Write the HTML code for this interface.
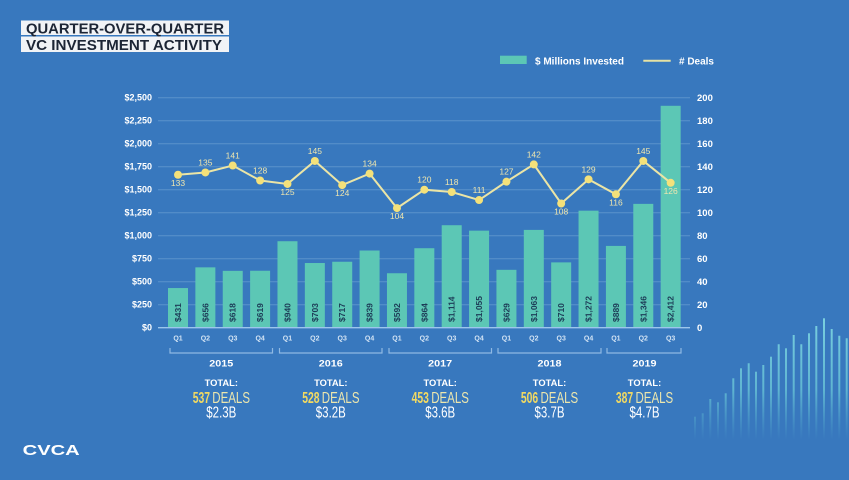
<!DOCTYPE html>
<html><head><meta charset="utf-8"><style>
html,body{margin:0;padding:0;background:#3878be;}
svg{display:block;font-family:"Liberation Sans",sans-serif;}
</style></head><body>
<svg width="849" height="480" viewBox="0 0 849 480" xmlns="http://www.w3.org/2000/svg">
<defs>
<linearGradient id="fade" gradientUnits="userSpaceOnUse" x1="0" y1="315" x2="0" y2="440">
<stop offset="0" stop-color="#7fd6e2" stop-opacity="0.95"/>
<stop offset="0.6" stop-color="#6cc9d8" stop-opacity="0.75"/>
<stop offset="1" stop-color="#5ab8cf" stop-opacity="0"/>
</linearGradient>
</defs>
<rect width="849" height="480" fill="#3878be"/>

<!-- Title -->
<rect x="21" y="20.5" width="208" height="14.5" fill="#f1f3f6"/>
<rect x="21" y="36.5" width="208" height="15.5" fill="#f1f3f6"/>
<text x="26" y="33.3" font-size="14.5" font-weight="bold" fill="#1c2535" textLength="198" lengthAdjust="spacingAndGlyphs">QUARTER-OVER-QUARTER</text>
<text x="26" y="50" font-size="14.5" font-weight="bold" fill="#1c2535" textLength="196" lengthAdjust="spacingAndGlyphs">VC INVESTMENT ACTIVITY</text>

<!-- Legend -->
<rect x="500" y="55.7" width="26.7" height="8.3" fill="#5cc7b5"/>
<text x="535" y="64.3" font-size="10" font-weight="bold" fill="#ffffff" textLength="89" lengthAdjust="spacingAndGlyphs">$ Millions Invested</text>
<line x1="643.3" y1="60.7" x2="670.7" y2="60.7" stroke="#e6e2a4" stroke-width="2"/>
<text x="679" y="64.3" font-size="10" font-weight="bold" fill="#ffffff" textLength="35" lengthAdjust="spacingAndGlyphs"># Deals</text>

<!-- Gridlines -->
<g stroke="#5b93cc" stroke-width="1">
<line x1="158" y1="304.7" x2="690" y2="304.7"/>
<line x1="158" y1="281.7" x2="690" y2="281.7"/>
<line x1="158" y1="258.7" x2="690" y2="258.7"/>
<line x1="158" y1="235.7" x2="690" y2="235.7"/>
<line x1="158" y1="212.7" x2="690" y2="212.7"/>
<line x1="158" y1="189.7" x2="690" y2="189.7"/>
<line x1="158" y1="166.7" x2="690" y2="166.7"/>
<line x1="158" y1="143.7" x2="690" y2="143.7"/>
<line x1="158" y1="120.7" x2="690" y2="120.7"/>
<line x1="158" y1="97.7" x2="690" y2="97.7"/>
</g>

<!-- Left axis labels -->
<g font-size="9" font-weight="bold" fill="#ffffff" text-anchor="end">
<text x="152" y="330.7">$0</text>
<text x="152" y="307.7">$250</text>
<text x="152" y="284.7">$500</text>
<text x="152" y="261.7">$750</text>
<text x="152" y="238.7">$1,000</text>
<text x="152" y="215.7">$1,250</text>
<text x="152" y="192.7">$1,500</text>
<text x="152" y="169.7">$1,750</text>
<text x="152" y="146.7">$2,000</text>
<text x="152" y="123.7">$2,250</text>
<text x="152" y="100.7">$2,500</text>
</g>

<!-- Right axis labels -->
<g font-size="9.5" font-weight="bold" fill="#ffffff">
<text x="697" y="331">0</text>
<text x="697" y="308">20</text>
<text x="697" y="285">40</text>
<text x="697" y="262">60</text>
<text x="697" y="239">80</text>
<text x="697" y="216">100</text>
<text x="697" y="193">120</text>
<text x="697" y="170">140</text>
<text x="697" y="147">160</text>
<text x="697" y="124">180</text>
<text x="697" y="101">200</text>
</g>

<!-- Bars -->
<g fill="#5cc7b5">
<rect x="168.00" y="288.05" width="20" height="39.65"/>
<rect x="195.37" y="267.35" width="20" height="60.35"/>
<rect x="222.74" y="270.84" width="20" height="56.86"/>
<rect x="250.11" y="270.75" width="20" height="56.95"/>
<rect x="277.48" y="241.22" width="20" height="86.48"/>
<rect x="304.85" y="263.02" width="20" height="64.68"/>
<rect x="332.22" y="261.74" width="20" height="65.96"/>
<rect x="359.59" y="250.51" width="20" height="77.19"/>
<rect x="386.96" y="273.24" width="20" height="54.46"/>
<rect x="414.33" y="248.21" width="20" height="79.49"/>
<rect x="441.70" y="225.21" width="20" height="102.49"/>
<rect x="469.07" y="230.64" width="20" height="97.06"/>
<rect x="496.44" y="269.83" width="20" height="57.87"/>
<rect x="523.81" y="229.90" width="20" height="97.80"/>
<rect x="551.18" y="262.38" width="20" height="65.32"/>
<rect x="578.55" y="210.68" width="20" height="117.02"/>
<rect x="605.92" y="245.91" width="20" height="81.79"/>
<rect x="633.29" y="203.87" width="20" height="123.83"/>
<rect x="660.66" y="105.80" width="20" height="221.90"/>
</g>

<!-- Baseline -->
<line x1="158" y1="327.7" x2="690" y2="327.7" stroke="#9cc6ec" stroke-width="1.3"/>

<!-- Bar value labels -->
<g font-size="8.5" font-weight="bold" fill="#1d3c57">
<text transform="translate(181.0,322) rotate(-90)">$431</text>
<text transform="translate(208.4,322) rotate(-90)">$656</text>
<text transform="translate(235.7,322) rotate(-90)">$618</text>
<text transform="translate(263.1,322) rotate(-90)">$619</text>
<text transform="translate(290.5,322) rotate(-90)">$940</text>
<text transform="translate(317.9,322) rotate(-90)">$703</text>
<text transform="translate(345.2,322) rotate(-90)">$717</text>
<text transform="translate(372.6,322) rotate(-90)">$839</text>
<text transform="translate(400.0,322) rotate(-90)">$592</text>
<text transform="translate(427.3,322) rotate(-90)">$864</text>
<text transform="translate(454.7,322) rotate(-90)">$1,114</text>
<text transform="translate(482.1,322) rotate(-90)">$1,055</text>
<text transform="translate(509.4,322) rotate(-90)">$629</text>
<text transform="translate(536.8,322) rotate(-90)">$1,063</text>
<text transform="translate(564.2,322) rotate(-90)">$710</text>
<text transform="translate(591.6,322) rotate(-90)">$1,272</text>
<text transform="translate(618.9,322) rotate(-90)">$889</text>
<text transform="translate(646.3,322) rotate(-90)">$1,346</text>
<text transform="translate(673.7,322) rotate(-90)">$2,412</text>
</g>

<!-- Deals line -->
<polyline fill="none" stroke="#ebe5a6" stroke-width="2" points="178.00,174.75 205.37,172.45 232.74,165.55 260.11,180.5 287.48,183.95 314.85,160.95 342.22,185.1 369.59,173.6 396.96,208.1 424.33,189.7 451.70,192.0 479.07,200.05 506.44,181.65 533.81,164.4 561.18,203.5 588.55,179.35 615.92,194.3 643.29,160.95 670.66,182.8"/>
<g fill="#f4e17a">
<circle cx="178.00" cy="174.75" r="4"/>
<circle cx="205.37" cy="172.45" r="4"/>
<circle cx="232.74" cy="165.55" r="4"/>
<circle cx="260.11" cy="180.5" r="4"/>
<circle cx="287.48" cy="183.95" r="4"/>
<circle cx="314.85" cy="160.95" r="4"/>
<circle cx="342.22" cy="185.1" r="4"/>
<circle cx="369.59" cy="173.6" r="4"/>
<circle cx="396.96" cy="208.1" r="4"/>
<circle cx="424.33" cy="189.7" r="4"/>
<circle cx="451.70" cy="192.0" r="4"/>
<circle cx="479.07" cy="200.05" r="4"/>
<circle cx="506.44" cy="181.65" r="4"/>
<circle cx="533.81" cy="164.4" r="4"/>
<circle cx="561.18" cy="203.5" r="4"/>
<circle cx="588.55" cy="179.35" r="4"/>
<circle cx="615.92" cy="194.3" r="4"/>
<circle cx="643.29" cy="160.95" r="4"/>
<circle cx="670.66" cy="182.8" r="4"/>
</g>
<g font-size="8.5" fill="#efe6ae" text-anchor="middle">
<text x="178.00" y="185.8">133</text>
<text x="205.37" y="165.4">135</text>
<text x="232.74" y="158.5">141</text>
<text x="260.11" y="173.5">128</text>
<text x="287.48" y="195.0">125</text>
<text x="314.85" y="153.9">145</text>
<text x="342.22" y="196.1">124</text>
<text x="369.59" y="166.6">134</text>
<text x="396.96" y="219.1">104</text>
<text x="424.33" y="182.7">120</text>
<text x="451.70" y="185.0">118</text>
<text x="479.07" y="193.0">111</text>
<text x="506.44" y="174.6">127</text>
<text x="533.81" y="157.4">142</text>
<text x="561.18" y="214.5">108</text>
<text x="588.55" y="172.3">129</text>
<text x="615.92" y="205.3">116</text>
<text x="643.29" y="153.9">145</text>
<text x="670.66" y="193.8">126</text>
</g>

<!-- Quarter labels -->
<g font-size="7" font-weight="bold" fill="#d2e3f4" text-anchor="middle">
<text x="178.00" y="340.5">Q1</text>
<text x="205.37" y="340.5">Q2</text>
<text x="232.74" y="340.5">Q3</text>
<text x="260.11" y="340.5">Q4</text>
<text x="287.48" y="340.5">Q1</text>
<text x="314.85" y="340.5">Q2</text>
<text x="342.22" y="340.5">Q3</text>
<text x="369.59" y="340.5">Q4</text>
<text x="396.96" y="340.5">Q1</text>
<text x="424.33" y="340.5">Q2</text>
<text x="451.70" y="340.5">Q3</text>
<text x="479.07" y="340.5">Q4</text>
<text x="506.44" y="340.5">Q1</text>
<text x="533.81" y="340.5">Q2</text>
<text x="561.18" y="340.5">Q3</text>
<text x="588.55" y="340.5">Q4</text>
<text x="615.92" y="340.5">Q1</text>
<text x="643.29" y="340.5">Q2</text>
<text x="670.66" y="340.5">Q3</text>
</g>

<!-- Brackets -->
<g fill="none" stroke="#8fb9e3" stroke-width="1.2">
<polyline points="170,348 170,353 272.5,353 272.5,348"/>
<polyline points="279.5,348 279.5,353 382,353 382,348"/>
<polyline points="389,348 389,353 491.5,353 491.5,348"/>
<polyline points="498,348 498,353 601,353 601,348"/>
<polyline points="607,348 607,353 681,353 681,348"/>
</g>

<!-- Year labels and totals -->
<g font-weight="bold" fill="#ffffff" text-anchor="middle">
<text x="221.3" y="366.5" font-size="9" textLength="24" lengthAdjust="spacingAndGlyphs">2015</text>
<text x="330.8" y="366.5" font-size="9" textLength="24" lengthAdjust="spacingAndGlyphs">2016</text>
<text x="440.2" y="366.5" font-size="9" textLength="24" lengthAdjust="spacingAndGlyphs">2017</text>
<text x="549.5" y="366.5" font-size="9" textLength="24" lengthAdjust="spacingAndGlyphs">2018</text>
<text x="644.5" y="366.5" font-size="9" textLength="24" lengthAdjust="spacingAndGlyphs">2019</text>
<text x="221.3" y="386" font-size="9" textLength="33.4" lengthAdjust="spacingAndGlyphs">TOTAL:</text>
<text x="330.8" y="386" font-size="9" textLength="33.4" lengthAdjust="spacingAndGlyphs">TOTAL:</text>
<text x="440.2" y="386" font-size="9" textLength="33.4" lengthAdjust="spacingAndGlyphs">TOTAL:</text>
<text x="549.5" y="386" font-size="9" textLength="33.4" lengthAdjust="spacingAndGlyphs">TOTAL:</text>
<text x="644.5" y="386" font-size="9" textLength="33.4" lengthAdjust="spacingAndGlyphs">TOTAL:</text>
</g>

<g font-size="15.5">
<text x="192.7" y="402.8" fill="#f2da62" font-weight="bold" textLength="17.3" lengthAdjust="spacingAndGlyphs">537</text>
<text x="212.3" y="402.8" fill="#ece7ae" textLength="37.7" lengthAdjust="spacingAndGlyphs">DEALS</text>
<text x="302.2" y="402.8" fill="#f2da62" font-weight="bold" textLength="17.3" lengthAdjust="spacingAndGlyphs">528</text>
<text x="321.8" y="402.8" fill="#ece7ae" textLength="37.7" lengthAdjust="spacingAndGlyphs">DEALS</text>
<text x="411.6" y="402.8" fill="#f2da62" font-weight="bold" textLength="17.3" lengthAdjust="spacingAndGlyphs">453</text>
<text x="431.2" y="402.8" fill="#ece7ae" textLength="37.7" lengthAdjust="spacingAndGlyphs">DEALS</text>
<text x="520.9" y="402.8" fill="#f2da62" font-weight="bold" textLength="17.3" lengthAdjust="spacingAndGlyphs">506</text>
<text x="540.5" y="402.8" fill="#ece7ae" textLength="37.7" lengthAdjust="spacingAndGlyphs">DEALS</text>
<text x="615.9" y="402.8" fill="#f2da62" font-weight="bold" textLength="17.3" lengthAdjust="spacingAndGlyphs">387</text>
<text x="635.5" y="402.8" fill="#ece7ae" textLength="37.7" lengthAdjust="spacingAndGlyphs">DEALS</text>
</g>
<g font-size="15.5" fill="#ffffff" text-anchor="middle">
<text x="221.3" y="417.3" textLength="30" lengthAdjust="spacingAndGlyphs">$2.3B</text>
<text x="330.8" y="417.3" textLength="30" lengthAdjust="spacingAndGlyphs">$3.2B</text>
<text x="440.2" y="417.3" textLength="30" lengthAdjust="spacingAndGlyphs">$3.6B</text>
<text x="549.5" y="417.3" textLength="30" lengthAdjust="spacingAndGlyphs">$3.7B</text>
<text x="644.5" y="417.3" textLength="30" lengthAdjust="spacingAndGlyphs">$4.7B</text>
</g>

<!-- Logo -->
<text x="22.7" y="455" font-size="15" font-weight="bold" fill="#ffffff" textLength="57" lengthAdjust="spacingAndGlyphs">CVCA</text>

<!-- Decorative lines -->
<g stroke="url(#fade)" stroke-width="2">
<line x1="695" y1="416.7" x2="695" y2="440"/>
<line x1="702.7" y1="413.3" x2="702.7" y2="440"/>
<line x1="710.3" y1="399" x2="710.3" y2="440"/>
<line x1="718" y1="402.3" x2="718" y2="440"/>
<line x1="725.7" y1="393.3" x2="725.7" y2="440"/>
<line x1="733.3" y1="378.3" x2="733.3" y2="440"/>
<line x1="741" y1="368.3" x2="741" y2="440"/>
<line x1="748.7" y1="363.3" x2="748.7" y2="440"/>
<line x1="756" y1="371.7" x2="756" y2="440"/>
<line x1="763.3" y1="365" x2="763.3" y2="440"/>
<line x1="771" y1="356.7" x2="771" y2="440"/>
<line x1="778.7" y1="344.3" x2="778.7" y2="440"/>
<line x1="786" y1="348.3" x2="786" y2="440"/>
<line x1="793.7" y1="335" x2="793.7" y2="440"/>
<line x1="801.3" y1="344.3" x2="801.3" y2="440"/>
<line x1="809" y1="333.3" x2="809" y2="440"/>
<line x1="816.3" y1="326" x2="816.3" y2="440"/>
<line x1="824" y1="318.3" x2="824" y2="440"/>
<line x1="831.7" y1="329" x2="831.7" y2="440"/>
<line x1="839.3" y1="335.7" x2="839.3" y2="440"/>
<line x1="846.7" y1="338.3" x2="846.7" y2="440"/>
</g>
</svg>
</body></html>
